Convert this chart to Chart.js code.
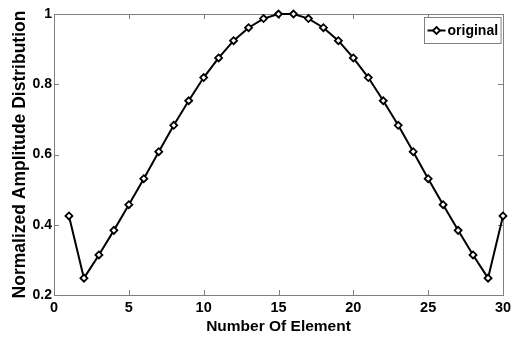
<!DOCTYPE html>
<html>
<head>
<meta charset="utf-8">
<script src="https://cdn.jsdelivr.net/npm/chart.js@4"></script>
<style>
  html, body { margin: 0; padding: 0; background: #ffffff; }
  #wrap { width: 519px; height: 339px; }
</style>
</head>
<body>
<div id="wrap"><canvas id="c" width="519" height="339"></canvas></div>
<script>
// ---- data ----
const elementNumbers = [1,2,3,4,5,6,7,8,9,10,11,12,13,14,15,16,17,18,19,20,21,22,23,24,25,26,27,28,29,30];
const amplitude = [0.425,0.248,0.314,0.384,0.457,0.531,0.608,0.683,0.753,0.819,0.875,0.924,0.961,0.987,1.0,
                   1.0,0.987,0.961,0.924,0.875,0.819,0.753,0.683,0.608,0.531,0.457,0.384,0.314,0.248,0.425];
const seriesLabel = 'original';
const xTitle = 'Number Of Element';
const yTitle = 'Normalized Amplitude Distribution';
const xTickValues = [0,5,10,15,20,25,30];
const yTickValues = [0.2,0.4,0.6,0.8,1];

const FONT = '"Liberation Sans", Arial, sans-serif';
const AXIS_GREY = '#808080';

const boxAndTicks = {
  id: 'boxAndTicks',
  beforeDatasetsDraw(chart) {
    const {ctx, chartArea: a, scales} = chart;
    ctx.save();
    ctx.strokeStyle = AXIS_GREY;
    ctx.lineWidth = 1;
    ctx.strokeRect(Math.round(a.left) + 0.5, Math.round(a.top) + 0.5,
                   Math.round(a.right - a.left), Math.round(a.bottom - a.top));
    const L = 5;
    ctx.beginPath();
    scales.x.ticks.forEach(t => {
      const px = Math.round(scales.x.getPixelForValue(t.value)) + 0.5;
      ctx.moveTo(px, a.bottom); ctx.lineTo(px, a.bottom - L);
      ctx.moveTo(px, a.top); ctx.lineTo(px, a.top + L);
    });
    scales.y.ticks.forEach(t => {
      const py = Math.round(scales.y.getPixelForValue(t.value)) + 0.5;
      ctx.moveTo(a.left, py); ctx.lineTo(a.left + L, py);
      ctx.moveTo(a.right, py); ctx.lineTo(a.right - L, py);
    });
    ctx.stroke();
    ctx.restore();
  },
  afterDraw(chart) {
    const {ctx, chartArea: a} = chart;
    const ds = chart.data.datasets[0];
    ctx.save();
    ctx.font = 'bold 14px ' + FONT;
    const tw = ctx.measureText(ds.label).width;
    const sample = 18, padL = 3, gap = 2, padR = 3;
    const w = padL + sample + gap + tw + padR;
    const h = 26;
    const x0 = Math.round(a.right - 2 - w) + 0.5;
    const y0 = Math.round(a.top + 3) + 0.5;
    ctx.fillStyle = '#ffffff';
    ctx.fillRect(x0, y0, w, h);
    ctx.strokeStyle = AXIS_GREY;
    ctx.lineWidth = 1;
    ctx.strokeRect(x0, y0, w, h);
    const cy = y0 + h / 2;
    ctx.strokeStyle = ds.borderColor;
    ctx.lineWidth = ds.borderWidth;
    ctx.beginPath();
    ctx.moveTo(x0 + padL, cy); ctx.lineTo(x0 + padL + sample, cy);
    ctx.stroke();
    const cx = x0 + padL + sample / 2;
    const r = ds.pointRadius;
    ctx.beginPath();
    ctx.moveTo(cx, cy - r); ctx.lineTo(cx + r, cy); ctx.lineTo(cx, cy + r); ctx.lineTo(cx - r, cy); ctx.closePath();
    ctx.fillStyle = ds.pointBackgroundColor;
    ctx.fill();
    ctx.lineWidth = ds.pointBorderWidth;
    ctx.strokeStyle = ds.pointBorderColor;
    ctx.stroke();
    ctx.fillStyle = '#000000';
    ctx.textBaseline = 'middle';
    ctx.textAlign = 'left';
    ctx.fillText(ds.label, x0 + padL + sample + gap, cy + 1);
    ctx.restore();
  }
};

new Chart(document.getElementById('c'), {
  type: 'line',
  data: {
    datasets: [{
      label: seriesLabel,
      data: elementNumbers.map((n, i) => ({x: n, y: amplitude[i]})),
      borderColor: '#000000',
      borderWidth: 2,
      pointStyle: 'rectRot',
      pointRadius: 3.5,
      pointBorderWidth: 1.8,
      pointBorderColor: '#000000',
      pointBackgroundColor: '#ffffff',
      tension: 0,
      fill: false,
      clip: false
    }]
  },
  options: {
    responsive: false,
    animation: false,
    events: [],
    layout: { padding: { top: 14, right: 16, left: 0, bottom: 0 } },
    plugins: { legend: { display: false }, tooltip: { enabled: false } },
    scales: {
      x: {
        type: 'linear', min: 0, max: 30,
        afterBuildTicks: s => { s.ticks = xTickValues.map(v => ({value: v})); },
        afterFit: s => { s.height = 44; },
        grid: { display: true, drawOnChartArea: false, drawTicks: false },
        border: { display: false },
        ticks: { padding: 4, color: '#000', font: { family: FONT, size: 14.5, weight: 'bold' }, maxRotation: 0 },
        title: { display: true, text: xTitle, color: '#000', padding: { top: 0, bottom: 3 },
                 font: { family: FONT, size: 15.5, weight: 'bold' } }
      },
      y: {
        type: 'linear', min: 0.2, max: 1,
        afterBuildTicks: s => { s.ticks = yTickValues.map(v => ({value: v})); },
        afterFit: s => { s.width = 54; },
        grid: { display: true, drawOnChartArea: false, drawTicks: false },
        border: { display: false },
        ticks: { padding: 2, color: '#000', font: { family: FONT, size: 14, weight: 'bold' },
                 callback: v => String(Math.round(v * 10) / 10) },
        title: { display: true, text: yTitle, color: '#000', padding: { top: 10, bottom: 0 },
                 font: { family: FONT, size: 17.5, weight: 'bold' } }
      }
    }
  },
  plugins: [boxAndTicks]
});
</script>
</body>
</html>
